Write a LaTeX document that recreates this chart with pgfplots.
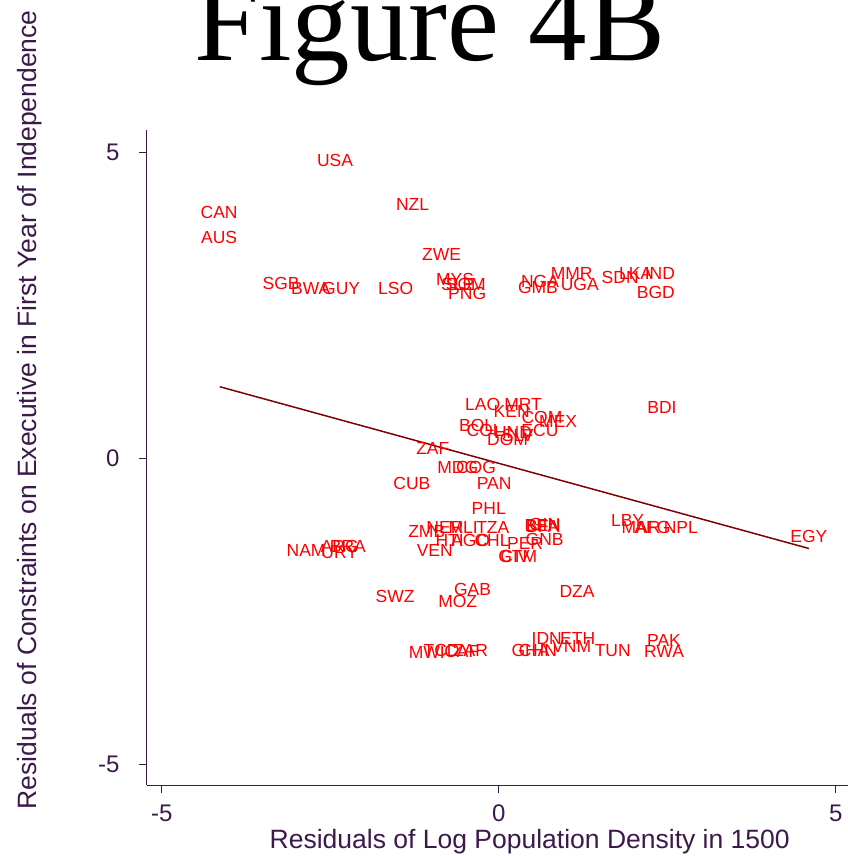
\documentclass[border=0pt]{standalone}
\usepackage{fontspec}
\setmainfont{Liberation Sans}
\newfontfamily\titlefont{Liberation Serif}
\usepackage{pgfplots}
\usepackage{pgfplotstable}
\pgfplotsset{compat=1.18}
\definecolor{axcol}{RGB}{60,25,75}
\definecolor{fitcol}{RGB}{128,0,0}
\pgfplotstableread{
x y label
-2.43 4.86 USA
-1.28 4.14 NZL
-4.15 4.01 CAN
-4.15 3.61 AUS
-0.85 3.33 ZWE
-3.23 2.86 SGB
-2.79 2.77 BWA
-2.34 2.77 GUY
-1.53 2.77 LSO
-0.65 2.92 MYS
-0.61 2.84 SLE
-0.49 2.84 SOM
-0.47 2.69 PNG
0.61 2.89 NGA
0.58 2.79 GMB
1.20 2.84 UGA
1.08 3.02 MMR
1.80 2.95 SDN
2.03 3.02 LKA
2.39 3.02 IND
2.33 2.71 BGD
-0.24 0.88 LAO
0.36 0.88 MRT
0.19 0.77 KEN
-0.33 0.54 BOL
-0.21 0.46 COL
0.21 0.42 HND
0.28 0.38 SLV
0.13 0.31 DOM
0.64 0.67 COM
0.88 0.60 MEX
0.61 0.46 ECU
2.42 0.83 BDI
-0.98 0.16 ZAF
-0.61 -0.15 MDG
-0.34 -0.15 COG
-1.29 -0.41 CUB
-0.07 -0.41 PAN
-0.15 -0.82 PHL
-1.07 -1.19 ZMB
-0.80 -1.13 NER
-0.53 -1.13 MLI
-0.09 -1.13 TZA
-0.73 -1.34 HTI
-0.42 -1.34 AGO
-0.10 -1.34 CHL
0.39 -1.39 PER
0.65 -1.09 BEN
0.68 -1.08 GIN
0.65 -1.11 BFA
0.68 -1.32 GNB
-0.95 -1.50 VEN
0.24 -1.60 CIV
0.28 -1.60 GTM
-2.86 -1.50 NAM
-2.36 -1.53 URY
-2.36 -1.44 ARG
-2.24 -1.44 BRA
1.91 -1.01 LBY
2.11 -1.13 MAR
2.28 -1.13 AFG
2.70 -1.13 NPL
4.60 -1.27 EGY
-1.54 -2.25 SWZ
-0.39 -2.14 GAB
-0.61 -2.33 MOZ
1.16 -2.17 DZA
0.71 -2.94 IDN
1.17 -2.94 ETH
1.08 -3.07 VNM
1.69 -3.13 TUN
2.45 -2.97 PAK
2.45 -3.15 RWA
0.47 -3.13 GHA
0.58 -3.13 CHN
-1.07 -3.16 MWI
-0.85 -3.13 TCD
-0.55 -3.15 CAF
-0.42 -3.13 ZAR
}\countries
\begin{document}
\begin{tikzpicture}
\begin{axis}[
  scale only axis,
  width=701pt, height=655pt,
  xmin=-5.22, xmax=5.18, ymin=-5.33, ymax=5.36,
  axis x line*=bottom, axis y line*=left,
  axis line style={draw=axcol, line width=1pt},
  xtick={-5,0,5}, ytick={-5,0,5},
  tick align=outside, major tick length=8pt,
  tick style={draw=axcol, line width=1pt},
  ticklabel style={font=\fontsize{24}{24}\selectfont, text=axcol},
  yticklabel style={xshift=-16pt},
  xticklabel style={yshift=-8pt},
  /pgf/number format/assume math mode=true,
  xlabel={Residuals of Log Population Density in 1500},
  ylabel={Residuals of Constraints on Executive in First Year of Independence},
  label style={font=\fontsize{26.5}{26.5}\selectfont, text=axcol},
  xlabel style={at={(axis description cs:0.546,-0.087)}, anchor=center},
  ylabel style={at={(axis description cs:-0.167,0.573)}, anchor=center},
  clip=false,
]
\addplot[only marks, mark=none, nodes near coords, point meta=explicit symbolic,
  nodes near coords style={anchor=center, inner sep=0pt, text=red, font=\fontsize{17.5}{17.5}\selectfont}]
  table[x=x, y=y, meta=label] {\countries};
\addplot[draw=fitcol, line width=1.5pt, mark=none] coordinates {(-4.14,1.17) (4.60,-1.47)};
\end{axis}
\node[anchor=base, font=\titlefont\fontsize{117}{117}\selectfont] at (283pt,724pt) {Figure 4B};
\pgfresetboundingbox
\path (-147pt,-71pt) rectangle (700pt,785pt);
\end{tikzpicture}
\end{document}
